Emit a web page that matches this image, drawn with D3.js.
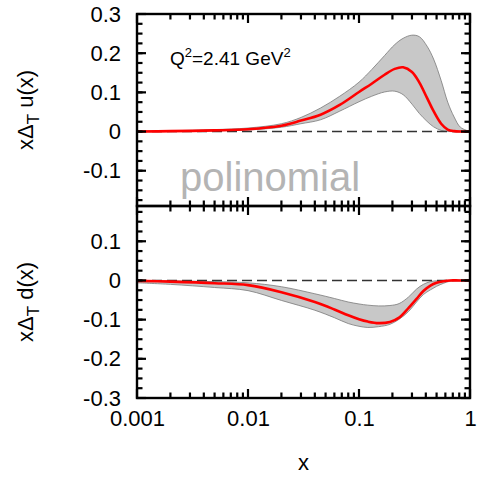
<!DOCTYPE html>
<html>
<head>
<meta charset="utf-8">
<script src="https://cdn.jsdelivr.net/npm/d3@7"></script>
<style>
    body { margin: 0; background: #fff; }
    text { font-family: "Liberation Sans", Arial, Helvetica, sans-serif; }
</style>
</head>
<body>
<div id="chart"></div>
<script>
/************************************* Data *************************************/
// u quark panel
const uX   = [0.001, 0.002, 0.005, 0.01, 0.02, 0.03, 0.045, 0.067, 0.1, 0.13, 0.17, 0.21, 0.25, 0.3, 0.35, 0.41, 0.47, 0.55, 0.63, 0.72, 0.82, 1];
const uMid = [0, 0.001, 0.003, 0.006, 0.015, 0.028, 0.043, 0.068, 0.101, 0.122, 0.145, 0.160, 0.164, 0.152, 0.125, 0.086, 0.052, 0.020, 0.005, 0.001, 0, 0];
const uHi  = [0.001, 0.002, 0.005, 0.009, 0.02, 0.036, 0.06, 0.09, 0.126, 0.158, 0.194, 0.222, 0.238, 0.246, 0.242, 0.218, 0.185, 0.13, 0.075, 0.037, 0.011, 0];
const uLo  = [0, 0.0005, 0.002, 0.004, 0.011, 0.02, 0.03, 0.052, 0.076, 0.09, 0.101, 0.103, 0.094, 0.07, 0.046, 0.026, 0.012, 0.003, 0, 0, 0, 0];

// d quark panel
const dX   = [0.001, 0.002, 0.005, 0.01, 0.02, 0.04, 0.06, 0.08, 0.1, 0.12, 0.15, 0.19, 0.23, 0.28, 0.33, 0.38, 0.44, 0.5, 0.58, 0.66, 0.8, 1];
const dMid = [-0.001, -0.003, -0.007, -0.012, -0.03, -0.055, -0.074, -0.089, -0.099, -0.105, -0.109, -0.106, -0.095, -0.07, -0.047, -0.027, -0.013, -0.006, -0.002, 0, 0, 0];
const dHi  = [0, -0.001, -0.003, -0.006, -0.016, -0.034, -0.046, -0.055, -0.06, -0.063, -0.065, -0.064, -0.059, -0.042, -0.022, -0.01, -0.003, -0.001, 0, 0, 0, 0];
const dLo  = [-0.006, -0.01, -0.018, -0.026, -0.051, -0.076, -0.095, -0.11, -0.117, -0.12, -0.118, -0.112, -0.099, -0.079, -0.055, -0.036, -0.024, -0.015, -0.007, -0.002, 0, 0];

// ticks
const xTicks = [0.001, 0.01, 0.1, 1];
const yTicksTop = [-0.1, 0, 0.1, 0.2, 0.3];
const yTicksBottom = [-0.3, -0.2, -0.1, 0, 0.1];
const yDomainTop = [-0.19, 0.3];
const yDomainBottom = [-0.3, 0.19];

/************************************* Layout *************************************/
const margin = {top: 14, right: 11, bottom: 79, left: 137};
const W = 481, H = 477;
const width = W - margin.left - margin.right;
const panelH = (H - margin.top - margin.bottom) / 2;

const svg = d3.select("#chart").append("svg")
    .attr("width", W)
    .attr("height", H);

svg.append("rect").attr("width", W).attr("height", H).attr("fill", "#fff");

const chart = svg.append("g")
    .attr("transform", "translate(" + margin.left + "," + margin.top + ")");

const x = d3.scaleLog()
    .domain([0.001, 1])
    .range([0, width]);

// minor ticks 2..9 per decade
const xMinor = [];
for (let e = -3; e < 0; e++) {
    for (let k = 2; k <= 9; k++) xMinor.push(k * Math.pow(10, e));
}

const curve = d3.curveCatmullRom.alpha(0.5);

const drawPanel = function (top, yDomain, yTicks, xs, mid, lo, hi, title, showXLabels) {
    const g = chart.append("g").attr("transform", "translate(0," + top + ")");
    const y = d3.scaleLinear().domain(yDomain).range([panelH, 0]);

    const yMinor = d3.range(Math.ceil(yDomain[0] / 0.025), Math.floor(yDomain[1] / 0.025) + 1)
        .map(i => +(i * 0.025).toFixed(3));

    const pts = xs.map((d, i) => ({x: d, mid: mid[i], lo: lo[i], hi: hi[i]}));

    // error band
    g.append("path")
        .datum(pts)
        .attr("fill", "#c8c8c8")
        .attr("stroke", "#7a7a7a")
        .attr("stroke-width", 0.8)
        .attr("d", d3.area()
            .x(d => x(d.x))
            .y0(d => y(d.lo))
            .y1(d => y(d.hi))
            .curve(curve));

    // zero line
    g.append("line")
        .attr("x1", 0).attr("x2", width)
        .attr("y1", y(0)).attr("y2", y(0))
        .attr("stroke", "#333")
        .attr("stroke-width", 1.5)
        .attr("stroke-dasharray", "10,5");

    // central curve
    g.append("path")
        .datum(pts)
        .attr("fill", "none")
        .attr("stroke", "#ff0000")
        .attr("stroke-width", 2.6)
        .attr("d", d3.line()
            .x(d => x(d.x))
            .y(d => y(d.mid))
            .curve(curve));

    // tick marks, all pointing inward
    const ticks = g.append("g").attr("class", "ticks")
        .attr("stroke", "#000")
        .attr("stroke-width", 2.2);
    const yTickData = yTicks.map(v => ({v: v, len: 9})).concat(yMinor.map(v => ({v: v, len: 5.5})));
    const xTickData = xTicks.map(v => ({v: v, len: 9})).concat(xMinor.map(v => ({v: v, len: 5.5})));

    ticks.selectAll(".yl").data(yTickData).enter().append("line")
        .attr("x1", 0).attr("x2", d => d.len)
        .attr("y1", d => y(d.v)).attr("y2", d => y(d.v));
    ticks.selectAll(".yr").data(yTickData).enter().append("line")
        .attr("x1", width).attr("x2", d => width - d.len)
        .attr("y1", d => y(d.v)).attr("y2", d => y(d.v));
    ticks.selectAll(".xt").data(xTickData).enter().append("line")
        .attr("x1", d => x(d.v)).attr("x2", d => x(d.v))
        .attr("y1", 0).attr("y2", d => d.len);
    ticks.selectAll(".xb").data(xTickData).enter().append("line")
        .attr("x1", d => x(d.v)).attr("x2", d => x(d.v))
        .attr("y1", panelH).attr("y2", d => panelH - d.len);

    // tick labels through d3 axes
    const yAxis = g.append("g")
        .attr("class", "y axis")
        .call(d3.axisLeft(y).tickValues(yTicks).tickSize(0).tickPadding(16)
            .tickFormat(d => String(d)));
    yAxis.select(".domain").remove();
    yAxis.selectAll("text").attr("font-size", 22).attr("fill", "#000");

    if (showXLabels) {
        const xAxis = g.append("g")
            .attr("class", "x axis")
            .attr("transform", "translate(0," + panelH + ")")
            .call(d3.axisBottom(x).tickValues(xTicks).tickSize(0).tickPadding(12)
                .tickFormat(d => String(d)));
        xAxis.select(".domain").remove();
        xAxis.selectAll("text").attr("font-size", 22).attr("fill", "#000");
    }

    // frame
    g.append("rect")
        .attr("width", width)
        .attr("height", panelH)
        .attr("fill", "none")
        .attr("stroke", "#000")
        .attr("stroke-width", 2.4);

    // y title
    const t = svg.append("text")
        .attr("transform", "translate(33," + (margin.top + top + panelH / 2) + ") rotate(-90)")
        .attr("text-anchor", "middle")
        .attr("font-size", 22)
        .attr("fill", "#000");
    t.append("tspan").text("x\u0394");
    t.append("tspan").attr("dy", 6).attr("font-size", 17).text("T");
    t.append("tspan").attr("dy", -6).text(" " + title);

    return g;
};

const gTop = drawPanel(0, yDomainTop, yTicksTop, uX, uMid, uLo, uHi, "u(x)", false);
drawPanel(panelH, yDomainBottom, yTicksBottom, dX, dMid, dLo, dHi, "d(x)", true);

// annotations
const q = gTop.append("text")
    .attr("x", 33)
    .attr("y", 51)
    .attr("font-size", 19)
    .attr("fill", "#000");
q.append("tspan").text("Q");
q.append("tspan").attr("dy", -8).attr("font-size", 13).text("2");
q.append("tspan").attr("dy", 8).text("=2.41 GeV");
q.append("tspan").attr("dy", -8).attr("font-size", 13).text("2");

gTop.append("text")
    .attr("x", 43)
    .attr("y", 177)
    .attr("font-size", 40)
    .attr("fill", "#b4b4b4")
    .text("polinomial");

// x title
svg.append("text")
    .attr("x", margin.left + width / 2)
    .attr("y", 470)
    .attr("text-anchor", "middle")
    .attr("font-size", 22)
    .attr("fill", "#000")
    .text("x");
</script>
</body>
</html>
